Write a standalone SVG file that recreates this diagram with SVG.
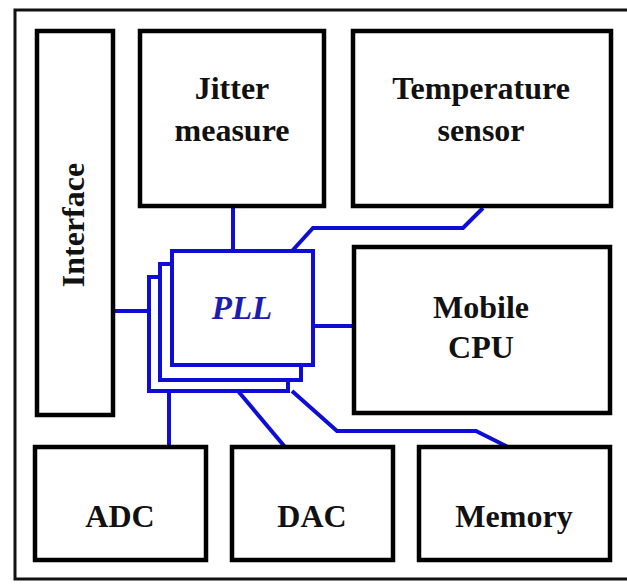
<svg xmlns="http://www.w3.org/2000/svg" width="627" height="586" viewBox="0 0 627 586">
<style>
.box{fill:#fff;stroke:#000;stroke-width:4.5}
.pll{fill:#fff;stroke:#0d0dd6;stroke-width:4}
.wire{fill:none;stroke:#0d0dd6;stroke-width:4;stroke-linejoin:miter}
.t{font-family:"Liberation Serif","Times New Roman",serif;font-weight:bold;font-size:32px;fill:#111;text-anchor:middle}
.tp{font-family:"Liberation Serif","Times New Roman",serif;font-weight:bold;font-style:italic;font-size:33px;fill:#1c1cb0;text-anchor:middle}
</style>
<rect width="627" height="586" fill="#fff"/>
<rect id="frame" x="15" y="10" width="620" height="569" fill="none" stroke="#111" stroke-width="3"/>
<g id="connectors">
<path class="wire" d="M233,208 V251"/>
<path class="wire" d="M292,251 L313,228 H463 L483,208"/>
<path class="wire" d="M115,311 H149"/>
<path class="wire" d="M313,326 H354"/>
<path class="wire" d="M169,391 V447"/>
<path class="wire" d="M238,391 L285,447"/>
<path class="wire" d="M292,391 L337,431 H476 L508,447"/>
</g>
<g id="interface"><rect class="box" x="37" y="31" width="76" height="384"/><text class="t" transform="translate(84,225) rotate(-90)">Interface</text></g>
<g id="jitter"><rect class="box" x="140" y="31" width="184" height="175"/><text class="t" x="232" y="99">Jitter</text><text class="t" x="232" y="141">measure</text></g>
<g id="temperature"><rect class="box" x="353" y="31" width="258" height="175"/><text class="t" x="481" y="99">Temperature</text><text class="t" x="481" y="141">sensor</text></g>
<g id="cpu"><rect class="box" x="354" y="247" width="256" height="166"/><text class="t" x="481" y="318">Mobile</text><text class="t" x="481" y="358">CPU</text></g>
<g id="adc"><rect class="box" x="35" y="447" width="171" height="113"/><text class="t" x="120" y="527">ADC</text></g>
<g id="dac"><rect class="box" x="232" y="447" width="161" height="113"/><text class="t" x="312" y="527">DAC</text></g>
<g id="memory"><rect class="box" x="419" y="447" width="191" height="113"/><text class="t" x="514" y="527">Memory</text></g>
<g id="pll">
<rect class="pll" x="149" y="277" width="139" height="114"/>
<rect class="pll" x="160" y="264" width="141" height="116"/>
<rect class="pll" x="172" y="251" width="141" height="114"/>
<text class="tp" x="242" y="319">PLL</text>
</g>
</svg>
